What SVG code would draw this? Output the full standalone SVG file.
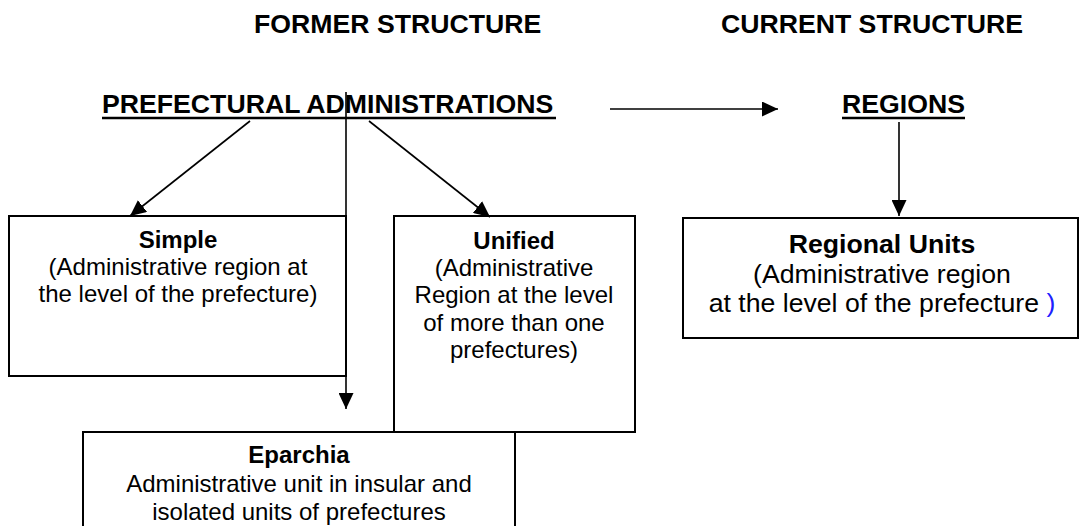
<svg xmlns="http://www.w3.org/2000/svg" width="1080" height="526" viewBox="0 0 1080 526">
<defs>
<style>
.hdr{font-family:"Liberation Sans",Arial,sans-serif;font-weight:bold;font-size:26.67px;fill:#000}
.big{font-family:"Liberation Sans",Arial,sans-serif;font-weight:bold;font-size:26.67px;fill:#000}
.t{font-family:"Liberation Sans",Arial,sans-serif;font-size:24px;fill:#000;text-anchor:middle}
.tb{font-weight:bold}
.t2{font-family:"Liberation Sans",Arial,sans-serif;font-size:26.67px;fill:#000;text-anchor:middle}
.box{fill:#fff;stroke:#000;stroke-width:2}
.ln{fill:none;stroke:#000;stroke-width:1.6}
.ul{stroke:#000;stroke-width:2.5}
</style>
<marker id="ah" markerWidth="16" markerHeight="15" refX="16" refY="7.5" orient="auto" markerUnits="userSpaceOnUse"><path d="M0,0 L16,7.5 L0,15 z" fill="#000"/></marker>
</defs>
<rect width="1080" height="526" fill="#fff"/>
<g id="headers">
<text class="hdr" x="254" y="33">FORMER STRUCTURE</text>
<text class="hdr" x="1023" y="33" text-anchor="end">CURRENT STRUCTURE</text>
</g>
<g id="prefectural">
<text class="big" x="102" y="113">PREFECTURAL ADMINISTRATIONS</text>
<line class="ul" x1="102" y1="118" x2="556" y2="118"/>
</g>
<g id="regions">
<text class="big" x="842" y="113">REGIONS</text>
<line class="ul" x1="842" y1="118" x2="965" y2="118"/>
</g>
<g id="simple">
<rect class="box" x="9" y="216" width="337" height="160"/>
<text class="t tb" x="178" y="248">Simple</text>
<text class="t" x="178" y="275">(Administrative region at</text>
<text class="t" x="178" y="302">the level of the prefecture)</text>
</g>
<g id="unified">
<rect class="box" x="394" y="216" width="241" height="216"/>
<text class="t tb" x="514" y="249">Unified</text>
<text class="t" x="514" y="276">(Administrative</text>
<text class="t" x="514" y="303">Region at the level</text>
<text class="t" x="514" y="331">of more than one</text>
<text class="t" x="514" y="358">prefectures)</text>
</g>
<g id="eparchia">
<rect class="box" x="83" y="432" width="432" height="120"/>
<text class="t tb" x="299" y="463">Eparchia</text>
<text class="t" x="299" y="492">Administrative unit in insular and</text>
<text class="t" x="299" y="520">isolated units of prefectures</text>
</g>
<g id="regional-units">
<rect class="box" x="683" y="218" width="395" height="120"/>
<text class="t2 tb" x="882" y="253">Regional Units</text>
<text class="t2" x="882" y="283">(Administrative region</text>
<text class="t2" x="882" y="312">at the level of the prefecture <tspan fill="#2020ff">)</tspan></text>
</g>
<g id="connectors">
<line class="ln" x1="250" y1="121" x2="130" y2="216" marker-end="url(#ah)"/>
<line class="ln" x1="369" y1="121" x2="490" y2="217" marker-end="url(#ah)"/>
<line class="ln" x1="346" y1="92" x2="346" y2="409" marker-end="url(#ah)"/>
<line class="ln" x1="610" y1="109" x2="778" y2="109" marker-end="url(#ah)"/>
<line class="ln" x1="899" y1="122" x2="899" y2="216" marker-end="url(#ah)"/>
</g>
</svg>
